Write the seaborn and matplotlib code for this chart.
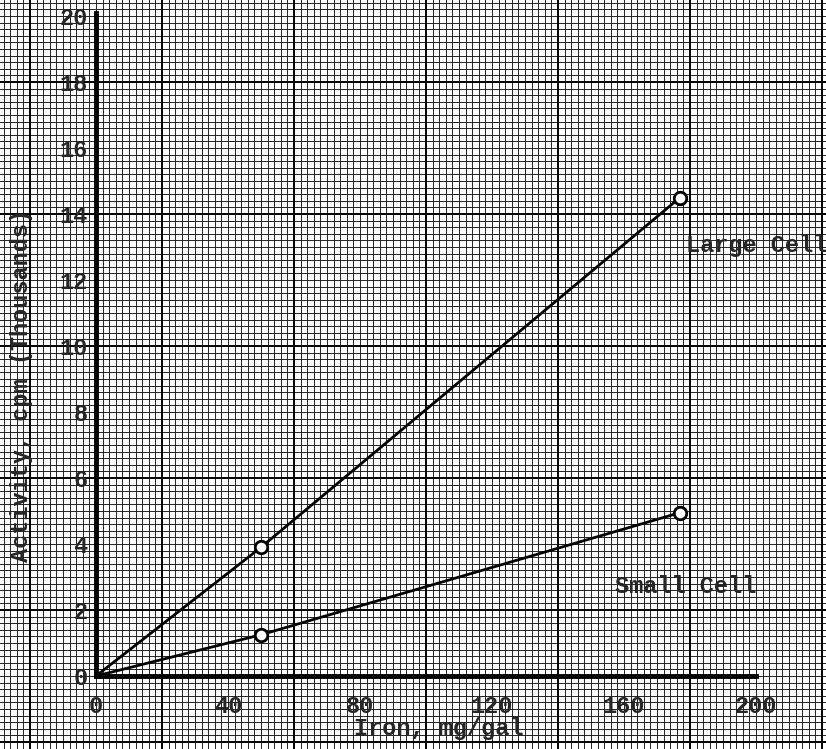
import numpy as np
import pandas as pd
import matplotlib
matplotlib.use('Agg')
import matplotlib.pyplot as plt
import seaborn as sns

# data
iron = [0, 50, 177]
large_cell = [0, 3.9, 14.5]
small_cell = [0, 1.25, 4.95]
x_ticks = [0, 40, 80, 120, 160, 200]
y_ticks = [0, 2, 4, 6, 8, 10, 12, 14, 16, 18, 20]

df = pd.DataFrame({
    'iron': iron * 2,
    'activity': large_cell + small_cell,
    'cell': ['Large Cell'] * 3 + ['Small Cell'] * 3,
})

sns.set_style('white')
plt.rcParams['font.family'] = ['Liberation Mono', 'DejaVu Sans Mono']

fig = plt.figure(figsize=(8.26, 7.49), dpi=100)
ax = fig.add_axes([0, 0, 1, 1])

# pixel mapping: x0 at 96px, 3.3 px/unit; y0 at 676px, 33 px/unit
ax.set_xlim(-96 / 3.3, 730 / 3.3)
ax.set_ylim(-73 / 33, 676 / 33)

# graph paper
fine_x = np.arange(-30, 224, 2)
fine_y = np.arange(-2.4, 20.8, 0.2)
ax.vlines(fine_x, -5, 25, color='#222222', lw=0.7, zorder=0)
ax.hlines(fine_y, -40, 240, color='#222222', lw=0.7, zorder=0)
ax.vlines(np.arange(-20, 224, 40), -5, 25, color='black', lw=1.4, zorder=0)
ax.hlines(np.arange(-2, 21, 4), -40, 240, color='black', lw=1.4, zorder=0)

for name, grp in df.groupby('cell'):
    sns.lineplot(data=grp, x='iron', y='activity', ax=ax, color='black',
                 lw=2, marker='o', markevery=[1, 2], ms=9, mfc='white',
                 mec='black', mew=2, legend=False, zorder=3)

# axis lines
for s in ['top', 'right']:
    ax.spines[s].set_visible(False)
ax.spines['left'].set_position(('data', 0))
ax.spines['bottom'].set_position(('data', 0))
ax.spines['left'].set_bounds(0, 20.1)
ax.spines['bottom'].set_bounds(0, 200)
for s in ['left', 'bottom']:
    ax.spines[s].set_linewidth(3.5)
    ax.spines[s].set_color('black')
    ax.spines[s].set_zorder(4)

ax.set_xticks(x_ticks)
ax.set_yticks(y_ticks)
ax.tick_params(axis='both', length=0, labelsize=17)
ax.tick_params(axis='y', pad=6)
ax.tick_params(axis='x', pad=14)
for lab in ax.get_xticklabels() + ax.get_yticklabels():
    lab.set_fontweight('bold')
ax.set_xlabel('')
ax.set_ylabel('')

ax.text(104, -1.58, 'Iron, mg/gal', ha='center', va='center',
        fontsize=17, fontweight='bold')
ax.text(-22.5, 8.8, 'Activity, cpm (Thousands)', ha='center', va='center',
        rotation=90, fontsize=17, fontweight='bold')
ax.text(178.8, 13.05, 'Large Cell', ha='left', va='center',
        fontsize=17, fontweight='bold')
ax.text(157.3, 2.7, 'Small Cell', ha='left', va='center',
        fontsize=17, fontweight='bold')

fig.savefig('out.png', dpi=100)
